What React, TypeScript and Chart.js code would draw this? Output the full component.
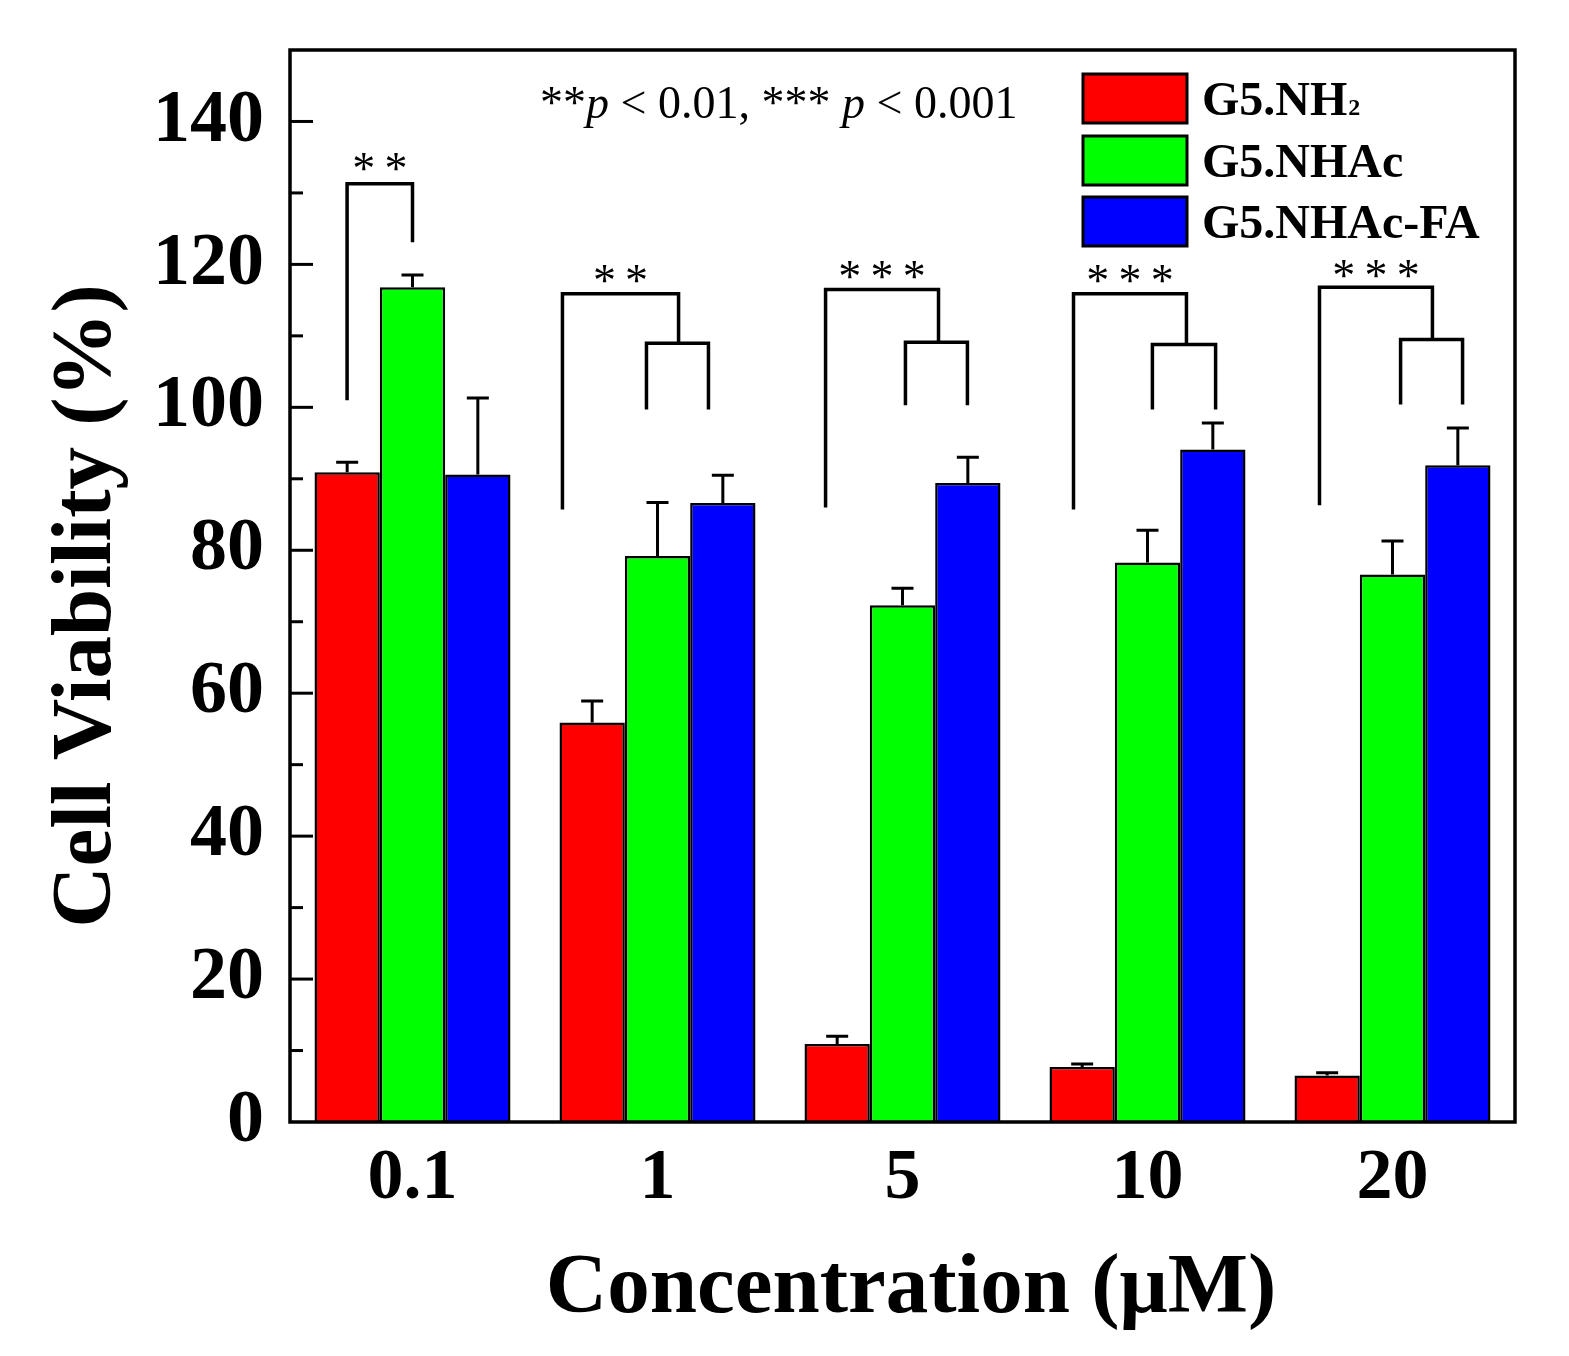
import { useEffect, useRef } from "react";
import { Chart, registerables } from "chart.js";

Chart.register(...registerables);

// concentrations (µM) on the x axis
const concentrations = ["0.1", "1", "5", "10", "20"];
const seriesLabels = ["G5.NH", "G5.NHAc", "G5.NHAc-FA"];
const seriesColors = ["#ff0000", "#00ff00", "#0000ff"];

// cell viability (%) and the upper error (SD)
const nh2Values = [90.9, 55.9, 10.9, 7.7, 6.5];
const nh2Errors = [1.4, 3.0, 1.1, 0.4, 0.4];
const nhacValues = [116.8, 79.2, 72.3, 78.3, 76.6];
const nhacErrors = [1.7, 7.5, 2.4, 4.5, 4.7];
const nhacFaValues = [90.6, 86.6, 89.4, 94.1, 91.9];
const nhacFaErrors = [10.7, 3.9, 3.6, 3.7, 5.2];

const yMajorTicks = [0, 20, 40, 60, 80, 100, 120, 140];
const yMinorTicks = [10, 30, 50, 70, 90, 110, 130];

// significance brackets (x in category units, y in % units)
const brackets = [
  { x1: -0.267, x2: 0, top: 131.3, end1: 101.0, end2: 123.1, inner: null, label: "**", labelY: 134.3 },
  { x1: 0.612, x2: 1.086, top: 115.9, end1: 85.7, end2: 108.95, inner: { x1: 0.955, x2: 1.208, end: 99.7 }, label: "**", labelY: 118.7 },
  { x1: 1.686, x2: 2.147, top: 116.5, end1: 86.0, end2: 109.1, inner: { x1: 2.012, x2: 2.265, end: 100.3 }, label: "***", labelY: 119.2 },
  { x1: 2.698, x2: 3.159, top: 115.9, end1: 85.7, end2: 108.8, inner: { x1: 3.02, x2: 3.278, end: 99.7 }, label: "***", labelY: 118.6 },
  { x1: 3.702, x2: 4.163, top: 116.8, end1: 86.3, end2: 109.5, inner: { x1: 4.033, x2: 4.286, end: 100.4 }, label: "***", labelY: 119.4 },
];

const SERIF = '"Liberation Serif", "DejaVu Serif", serif';

const overlayPlugin = {
  id: "overlay",
  afterDatasetsDraw(chart: any) {
    const { ctx, chartArea: area, scales } = chart;
    const x = scales.x;
    const y = scales.y;
    const errors = [nh2Errors, nhacErrors, nhacFaErrors];
    const values = [nh2Values, nhacValues, nhacFaValues];

    ctx.save();
    ctx.strokeStyle = "#000";
    ctx.lineCap = "butt";

    // error bars (upper only)
    ctx.lineWidth = 3;
    errors.forEach((errs, d) => {
      const meta = chart.getDatasetMeta(d);
      meta.data.forEach((bar: any, i: number) => {
        const yt = y.getPixelForValue(values[d][i] + errs[i]);
        ctx.beginPath();
        ctx.moveTo(bar.x, bar.y);
        ctx.lineTo(bar.x, yt);
        ctx.moveTo(bar.x - 11, yt);
        ctx.lineTo(bar.x + 11, yt);
        ctx.stroke();
      });
    });

    // brackets
    ctx.lineWidth = 3.5;
    ctx.lineJoin = "miter";
    ctx.font = `46px ${SERIF}`;
    ctx.fillStyle = "#000";
    ctx.textAlign = "center";
    ctx.textBaseline = "alphabetic";
    const starMetrics = ctx.measureText("*");
    const starShift = (starMetrics.actualBoundingBoxAscent - starMetrics.actualBoundingBoxDescent) / 2;
    brackets.forEach((b) => {
      const px1 = x.getPixelForValue(b.x1);
      const px2 = x.getPixelForValue(b.x2);
      const pt = y.getPixelForValue(b.top);
      ctx.beginPath();
      ctx.moveTo(px1, y.getPixelForValue(b.end1));
      ctx.lineTo(px1, pt);
      ctx.lineTo(px2, pt);
      ctx.lineTo(px2, y.getPixelForValue(b.end2));
      ctx.stroke();
      if (b.inner) {
        const it = y.getPixelForValue(b.end2);
        const ie = y.getPixelForValue(b.inner.end);
        ctx.beginPath();
        ctx.moveTo(x.getPixelForValue(b.inner.x1), ie);
        ctx.lineTo(x.getPixelForValue(b.inner.x1), it);
        ctx.lineTo(x.getPixelForValue(b.inner.x2), it);
        ctx.lineTo(x.getPixelForValue(b.inner.x2), ie);
        ctx.stroke();
      }
      ctx.fillText(b.label.split("").join("\u2009"), (px1 + px2) / 2, y.getPixelForValue(b.labelY) + starShift);
    });

    // p-value note
    ctx.textAlign = "left";
    let tx = area.left + 250;
    const ty = area.top + 68;
    const parts: [string, boolean][] = [
      ["**", false],
      ["p", true],
      [" < 0.01, *** ", false],
      ["p", true],
      [" < 0.001", false],
    ];
    parts.forEach(([s, italic]) => {
      ctx.font = `${italic ? "italic " : ""}46px ${SERIF}`;
      ctx.fillText(s, tx, ty);
      tx += ctx.measureText(s).width;
    });

    // legend
    const boxX = 1083;
    const boxW = 104;
    const boxTops = [74, 136, 197];
    const boxH = 49;
    const baselines = [115, 177, 238];
    seriesLabels.forEach((label, i) => {
      ctx.fillStyle = seriesColors[i];
      ctx.fillRect(boxX, boxTops[i], boxW, boxH);
      ctx.lineWidth = 3;
      ctx.strokeRect(boxX, boxTops[i], boxW, boxH);
      ctx.fillStyle = "#000";
      ctx.font = `bold 48px ${SERIF}`;
      ctx.fillText(label, 1202, baselines[i]);
      if (i === 0) {
        const w = ctx.measureText(label).width;
        ctx.font = `bold 24px ${SERIF}`;
        ctx.fillText("2", 1202 + w + 1, baselines[i]);
      }
    });

    // y minor/major ticks (inside)
    ctx.lineWidth = 3;
    yMajorTicks.concat(yMinorTicks).forEach((v) => {
      if (v === 0) return;
      const py = y.getPixelForValue(v);
      const len = v % 20 === 0 ? 23 : 13;
      ctx.beginPath();
      ctx.moveTo(area.left, py);
      ctx.lineTo(area.left + len, py);
      ctx.stroke();
    });

    // frame
    ctx.lineWidth = 3.5;
    ctx.strokeRect(area.left, area.top, area.right - area.left, area.bottom - area.top);

    // axis titles
    ctx.fillStyle = "#000";
    ctx.textAlign = "center";
    ctx.textBaseline = "middle";
    ctx.font = `bold 85px ${SERIF}`;
    ctx.fillText("Concentration (\u03bcM)", 911, 1290);
    ctx.save();
    ctx.translate(88, 606);
    ctx.rotate(-Math.PI / 2);
    ctx.fillText("Cell Viability (%)", 0, 0);
    ctx.restore();

    ctx.restore();
  },
};

export default function App() {
  const canvasRef = useRef<HTMLCanvasElement | null>(null);

  useEffect(() => {
    if (!canvasRef.current) return;
    const datasets = [nh2Values, nhacValues, nhacFaValues].map((vals, i) => ({
      label: seriesLabels[i],
      data: vals,
      backgroundColor: seriesColors[i],
      borderColor: "#000",
      borderWidth: 2.5,
      categoryPercentage: 0.8,
      barPercentage: 1.0,
    }));

    const chart = new Chart(canvasRef.current, {
      type: "bar",
      data: { labels: concentrations, datasets },
      options: {
        responsive: false,
        animation: false,
        devicePixelRatio: 1,
        layout: { padding: { left: 0, top: 50, right: 54, bottom: 0 } },
        plugins: { legend: { display: false }, tooltip: { enabled: false } },
        scales: {
          x: {
            grid: { display: false, drawTicks: false },
            border: { display: false },
            ticks: {
              color: "#000",
              padding: 14,
              font: { family: SERIF, size: 72, weight: "bold" },
            },
            afterFit: (scale: any) => {
              scale.height = 234;
              scale.paddingLeft = 0;
              scale.paddingRight = 0;
            },
          },
          y: {
            min: 0,
            max: 150,
            grid: { display: false, drawTicks: false },
            border: { display: false },
            ticks: {
              stepSize: 20,
              color: "#000",
              padding: 26,
              font: { family: SERIF, size: 74, weight: "bold" },
            },
            afterBuildTicks: (scale: any) => {
              scale.ticks = yMajorTicks.map((v) => ({ value: v }));
            },
            afterFit: (scale: any) => {
              scale.width = 290;
              scale.paddingTop = 0;
              scale.paddingBottom = 0;
            },
          },
        },
      },
      plugins: [overlayPlugin],
    } as any);

    return () => chart.destroy();
  }, []);

  return (
    <div style={{ position: "absolute", left: 0, top: 0, width: 1569, height: 1356, background: "#fff" }}>
      <canvas ref={canvasRef} width={1569} height={1356} />
    </div>
  );
}
